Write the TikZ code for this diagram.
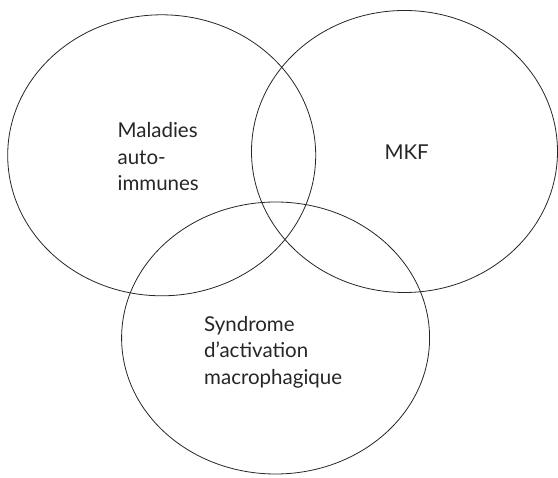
\documentclass[tikz,border=0pt]{standalone}
\usepackage{fontspec}
\setmainfont{Lato}
\usetikzlibrary{shapes.geometric}
\begin{document}
\begin{tikzpicture}[x=1pt,y=-1pt,
  ring/.style={draw=black!85, line width=0.8pt, ellipse, inner sep=0pt},
  lbl/.style={align=left, inner sep=0pt, anchor=west, font=\fontsize{20.5}{26.5}\selectfont, text=black!85}]
\useasboundingbox (0,0) rectangle (558,478);
\node[ring, minimum width=308pt, minimum height=281pt] (A) at (161.7,155.3) {};
\node[ring, minimum width=306pt, minimum height=282pt] (B) at (404.5,151.5) {};
\node[ring, minimum width=308pt, minimum height=272pt] (C) at (275.6,338) {};
\node[lbl] (ta) at (117.4,157) {Maladies\\auto-\\immunes};
\node[lbl] (tb) at (384.3,152) {MKF};
\node[lbl] (tc) at (204,352) {Syndrome\\d’activation\\macrophagique};
\end{tikzpicture}
\end{document}
